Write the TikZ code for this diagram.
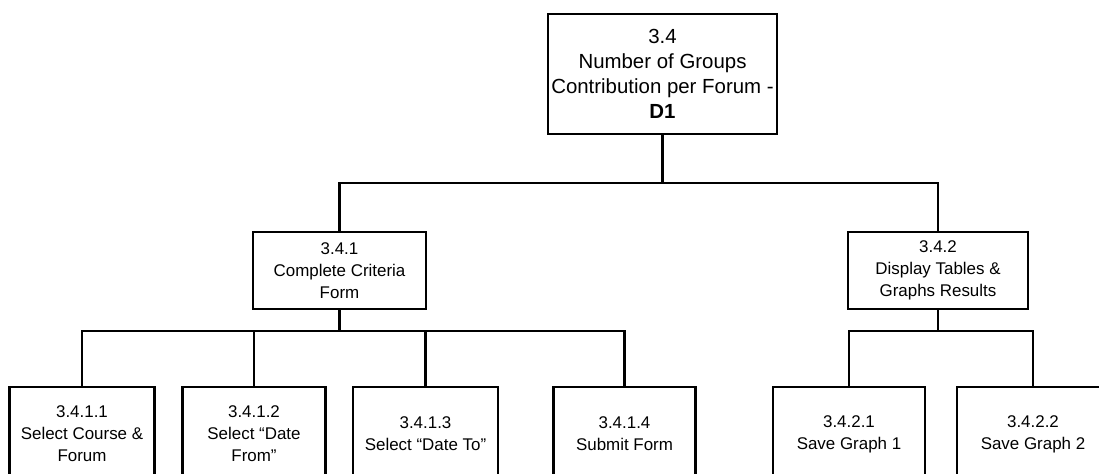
\documentclass[tikz,border=0pt]{standalone}
\usepackage{fontspec}
\setmainfont{Liberation Sans}
\usepackage{tikz}
\usetikzlibrary{positioning}

\tikzset{
  task/.style={draw, line width=2.2bp, align=center, inner sep=2bp,
    font=\fontsize{17}{22}\selectfont},
  leaf/.style={task, minimum width=146bp, minimum height=94bp},
  wire/.style={line width=2.2bp}
}

\begin{document}
\begin{tikzpicture}[x=1bp, y=-1bp]
\useasboundingbox (0,0) rectangle (1099,474);
\clip (0,0) rectangle (1099,474);
% the two horizontal buses
\coordinate (bus1) at (0,183);
\coordinate (bus2) at (0,331);
% root and second level
\node[task, minimum width=229bp, minimum height=120bp,
  font=\fontsize{20.5}{25}\selectfont] (root) at (662.5,74)
  {3.4\\Number of Groups\\Contribution per Forum -\\\textbf{D1}};
\node[task, minimum width=173bp, minimum height=77bp] (crit) at (339.5,270.5)
  {3.4.1\\Complete Criteria\\Form};
\node[task, minimum width=180bp, minimum height=77bp] (disp) at (938,270.5)
  {3.4.2\\Display Tables \&\\Graphs Results};
% leaves
\node[leaf, minimum width=145bp] (sel1) at (82,434) {3.4.1.1\\Select Course \&\\Forum};
\node[leaf, minimum width=143bp] (sel2) at (254,434) {3.4.1.2\\Select “Date\\From”};
\node[leaf, minimum width=145bp] (sel3) at (425.5,434) {3.4.1.3\\Select “Date To”};
\node[leaf, minimum width=142bp] (submit) at (624.5,434) {3.4.1.4\\Submit Form};
\node[leaf, minimum width=152bp] (save1) at (849,434) {3.4.2.1\\Save Graph 1};
\node[leaf, minimum width=152bp] (save2) at (1033,434) {3.4.2.2\\Save Graph 2};
% connectors
\draw[wire] (root.south) -- (root.south |- bus1);
\draw[wire] (crit.north) -- (crit.north |- bus1) -| (disp.north);
\draw[wire] (crit.south) -- (crit.south |- bus2);
\draw[wire] (sel1.north) -- (sel1.north |- bus2) -| (submit.north);
\foreach \n in {sel2, sel3}
  \draw[wire] (\n.north) -- (\n.north |- bus2);
\draw[wire] (disp.south) -- (disp.south |- bus2);
\draw[wire] (save1.north) -- (save1.north |- bus2) -| (save2.north);
\end{tikzpicture}
\end{document}
